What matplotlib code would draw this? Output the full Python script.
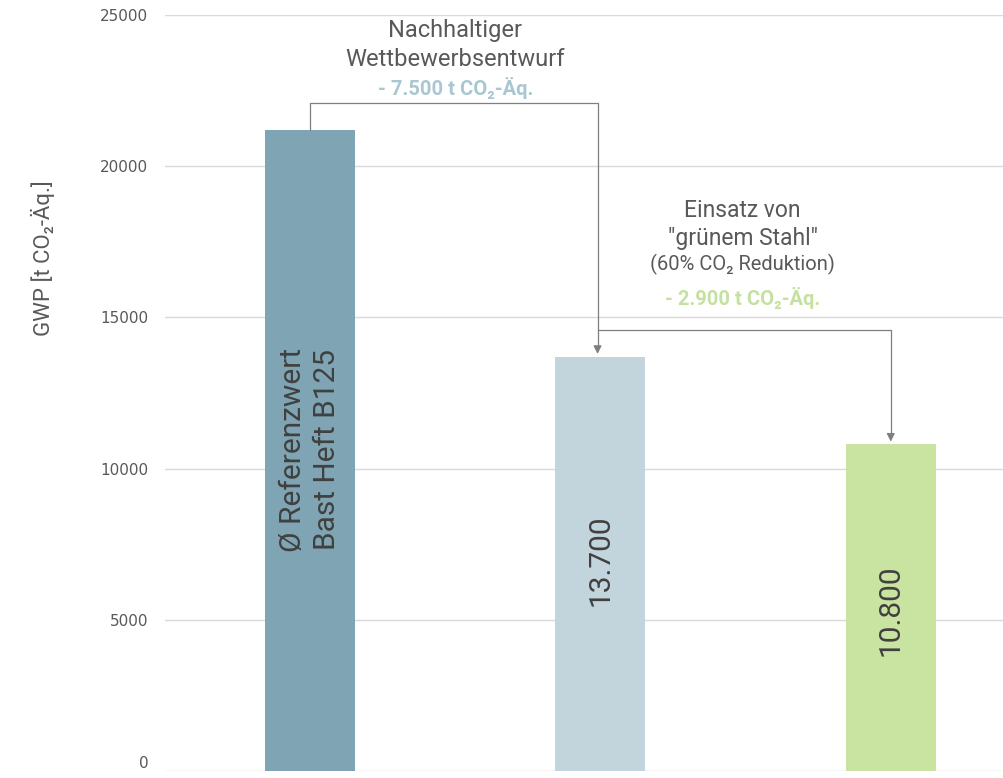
import matplotlib.pyplot as plt
import numpy as np

categories = ['Referenz', 'Wettbewerbsentwurf', 'Grüner Stahl']
values = [21200, 13700, 10800]
bar_labels = ['Ø Referenzwert\nBast Heft B125', '13.700', '10.800']
bar_colors = ['#7fa5b4', '#c2d5dc', '#c9e3a0']
yticks = [0, 5000, 10000, 15000, 20000, 25000]

plt.rcParams['font.family'] = ['Roboto', 'DejaVu Sans']

fig = plt.figure(figsize=(10.04, 7.78), dpi=100)
ax = fig.add_axes([0.1643, 0.009, 0.8357, 0.9717])

x = np.arange(len(categories))
ax.bar(x, values, width=0.31, color=bar_colors, zorder=2)

ax.set_ylim(0, 25000)
ax.set_xlim(-0.5, 2.39)
ax.set_yticks(yticks)
ax.set_xticks([])
ax.tick_params(axis='y', length=0, pad=12, labelsize=11, labelcolor='#595959',
               labelfontfamily='DejaVu Sans')
ax.get_yticklabels()[0].set_verticalalignment('bottom')
ax.grid(axis='y', color='#d9d9d9', linewidth=1, zorder=0)
for s in ax.spines.values():
    s.set_visible(False)

ax.set_ylabel('GWP [t CO₂-Äq.]', fontsize=16, color='#595959')
ax.yaxis.set_label_coords(-0.131, 0.679)

# text inside bars
text_y = [10620, 6980, 5320]
for xi, lab, ty in zip(x, bar_labels, text_y):
    ax.text(xi, ty, lab, rotation=90, ha='center', va='center', fontsize=21.5,
            color='#404040', linespacing=1.3, zorder=3)

# connectors
lc = '#7f7f7f'
lvl1 = values[0] + 900
lvl2 = values[1] + 900
ax.plot([0, 0, 0.99, 0.99], [values[0], lvl1, lvl1, values[1] + 350], color=lc, lw=0.9, zorder=3)
ax.annotate('', xy=(0.99, values[1]), xytext=(0.99, values[1] + 400),
            arrowprops=dict(arrowstyle='-|>', color=lc, lw=0.9, mutation_scale=12), zorder=3)
ax.plot([0.99, 2.0, 2.0], [lvl2, lvl2, values[2] + 350], color=lc, lw=0.9, zorder=3)
ax.annotate('', xy=(2.0, values[2]), xytext=(2.0, values[2] + 400),
            arrowprops=dict(arrowstyle='-|>', color=lc, lw=0.9, mutation_scale=12), zorder=3)

# annotations
ax.text(0.5, 24500, 'Nachhaltiger', ha='center', va='center', fontsize=17, color='#595959')
ax.text(0.5, 23520, 'Wettbewerbsentwurf', ha='center', va='center', fontsize=17, color='#595959')
ax.text(0.5, 22580, '- 7.500 t CO₂-Äq.', ha='center', va='center', fontsize=14.5,
        fontweight='bold', color='#a9c7d2')

ax.text(1.49, 18550, 'Einsatz von', ha='center', va='center', fontsize=16.5, color='#595959')
ax.text(1.49, 17620, '"grünem Stahl"', ha='center', va='center', fontsize=16.5, color='#595959')
ax.text(1.49, 16760, '(60% CO₂ Reduktion)', ha='center', va='center', fontsize=14.5, color='#595959')
ax.text(1.49, 15640, '- 2.900 t CO₂-Äq.', ha='center', va='center', fontsize=14.5,
        fontweight='bold', color='#c5e0a0')

fig.savefig('out.png', dpi=100)
